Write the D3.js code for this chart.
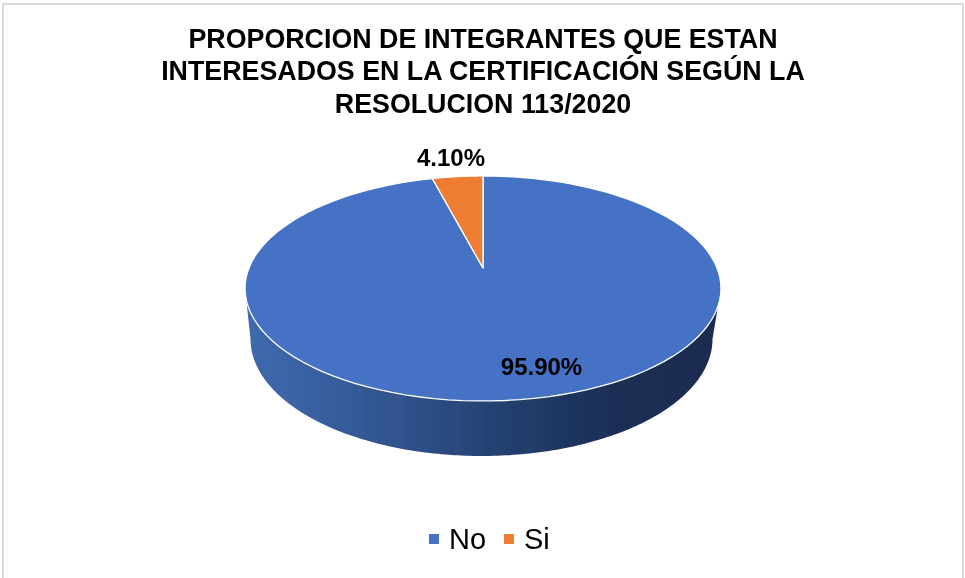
<!DOCTYPE html>
<html><head><meta charset="utf-8">
<script src="https://cdn.jsdelivr.net/npm/d3@7/dist/d3.min.js"></script>
<style>html,body{margin:0;padding:0;background:#fff}svg{display:block}text{font-family:"Liberation Sans",Arial,sans-serif;fill:#000}</style>
</head><body><div id="chart"></div>
<script>
const categories = ["No", "Si"];
const values = [95.9, 4.1];
const valueLabels = ["95.90%", "4.10%"];
const titleLines = ["PROPORCION DE INTEGRANTES QUE ESTAN","INTERESADOS EN LA CERTIFICACIÓN SEGÚN LA","RESOLUCION 113/2020"];
const colors = ["#4472c4", "#ed7d31"];

const W = 965, H = 578;
const svg = d3.select("#chart").append("svg").attr("width", W).attr("height", H);
const defs = svg.append("defs");
const grad = defs.append("linearGradient").attr("id","side").attr("gradientUnits","userSpaceOnUse")
  .attr("x1",245).attr("x2",721).attr("y1",0).attr("y2",0);
[[0,"#3f6aaf"],[0.2,"#365c9b"],[0.42,"#2b4a80"],[0.62,"#203a66"],[0.8,"#1a2d52"],[1,"#1a2c50"]]
  .forEach(([o,c])=>grad.append("stop").attr("offset",o).attr("stop-color",c));
const soft = defs.append("filter").attr("id","soft");
soft.append("feGaussianBlur").attr("stdDeviation",0.45);
const softText = defs.append("filter").attr("id","softText");
softText.append("feGaussianBlur").attr("stdDeviation",0.3);

svg.append("rect").attr("x",3).attr("y",4).attr("width",960).attr("height",620)
  .attr("fill","#fff").attr("stroke","#d9d9d9").attr("stroke-width",2);

svg.append("g").attr("filter","url(#softText)").selectAll("text").data(titleLines).join("text")
  .attr("x",483).attr("y",(d,i)=>47.5+i*32.5).attr("text-anchor","middle")
  .attr("font-size",26.8).attr("font-weight","bold").text(d=>d);

// perspective projection of the pie disc
const cx = 483, apexY = 268, p = 0.182, a = 108.8, b = 234;
const project = t => {
  const u = Math.sin(t), v = Math.cos(t), k = 1 + p*v;
  return [cx + b*u/k, apexY - a*v/k];
};
const pie = d3.pie().sort(null).value(d=>d)(values);
const line = d3.line();
const arcPoints = (s,e) => d3.range(0,121).map(i=>project(s+(e-s)*i/120));

const g = svg.append("g").attr("filter","url(#soft)");

// side wall
const bx = 481.5, by = 339, brx = 231, bry = 117;
const wall = [[245,288]].concat(
  d3.range(0,181).map(i=>{const t=Math.PI-i*Math.PI/180;return [bx+brx*Math.cos(t),by+bry*Math.sin(t)];}),
  [[721,288]]);
g.append("path").attr("d",line(wall)+"Z").attr("fill","url(#side)");

// top slices
g.selectAll("path.slice").data(pie).join("path").attr("class","slice")
  .attr("d",d=>line([[cx,apexY],...arcPoints(d.startAngle,d.endAngle)])+"Z")
  .attr("fill",(d,i)=>colors[i]).attr("stroke","#fff").attr("stroke-width",1.3).attr("stroke-linejoin","round");

const labelPos = [[541.5,366],[451,157.5]];
svg.append("g").attr("filter","url(#softText)").selectAll("text").data(valueLabels).join("text")
  .attr("x",(d,i)=>labelPos[i][0]).attr("y",(d,i)=>labelPos[i][1]+8.5)
  .attr("text-anchor","middle").attr("font-size",24).attr("font-weight","bold").text(d=>d);

const leg = svg.append("g").attr("filter","url(#softText)").selectAll("g").data(categories).join("g")
  .attr("transform",(d,i)=>`translate(${[429,504][i]},0)`);
leg.append("rect").attr("y",534).attr("width",10).attr("height",10).attr("fill",(d,i)=>colors[i]);
leg.append("text").attr("x",20).attr("y",549).attr("font-size",29).text(d=>d);
</script></body></html>
